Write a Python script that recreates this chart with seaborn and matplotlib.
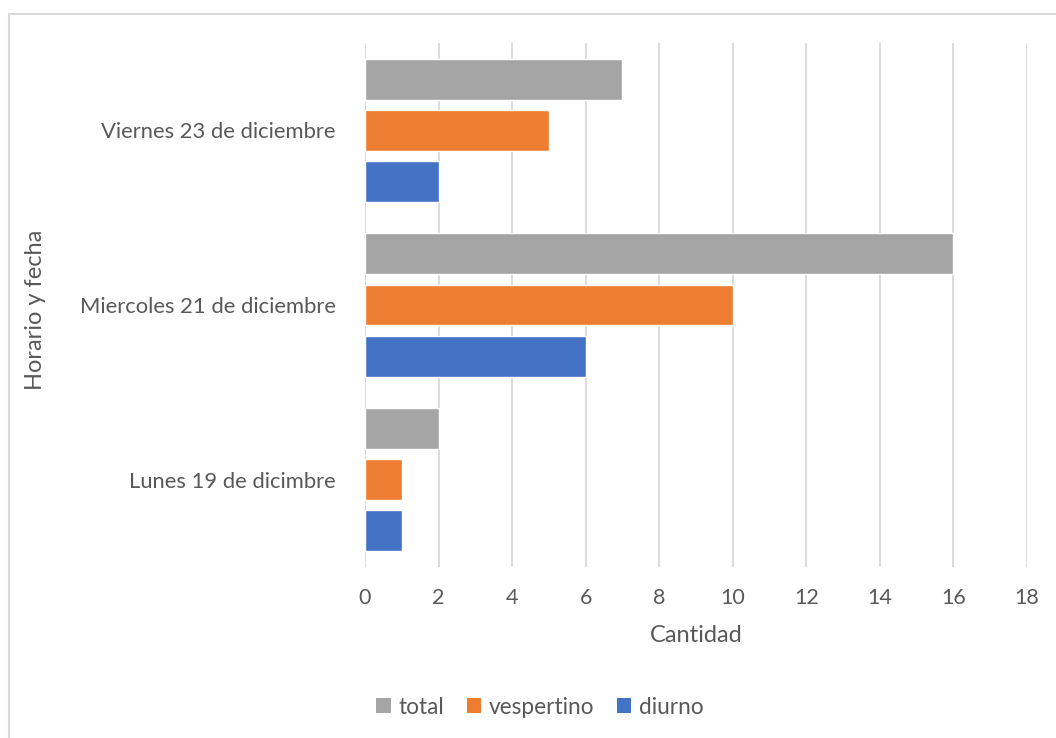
import matplotlib
matplotlib.use("Agg")
import matplotlib.pyplot as plt
import seaborn as sns
import pandas as pd
from matplotlib.patches import Rectangle, Patch

categorias = ["Viernes 23 de diciembre", "Miercoles 21 de diciembre", "Lunes 19 de dicimbre"]
series = ["total", "vespertino", "diurno"]
total = [7, 16, 2]
vespertino = [5, 10, 1]
diurno = [2, 6, 1]
colores = ["#A5A5A5", "#ED7D31", "#4472C4"]
xticks = [0, 2, 4, 6, 8, 10, 12, 14, 16, 18]

rows = []
for s, vals in zip(series, [total, vespertino, diurno]):
    for c, v in zip(categorias, vals):
        rows.append({"cat": c, "serie": s, "valor": v})
df = pd.DataFrame(rows)

sns.set_theme(style="white")
plt.rcParams["font.family"] = ["Lato", "DejaVu Sans"]
txt = "#595959"

fig = plt.figure(figsize=(10.56, 7.38), dpi=100)
ax = fig.add_axes([365/1056, 1-567/738, (1027-365)/1056, (567-43)/738])

sns.barplot(data=df, x="valor", y="cat", hue="serie", order=categorias,
            hue_order=series, palette=colores, orient="h", width=0.879,
            gap=0.2, saturation=1, ax=ax, legend=False)

ax.set_xlim(0, 18)
ax.set_xticks(xticks)
ax.grid(axis="x", color="#D9D9D9", linewidth=1.3)
ax.set_axisbelow(True)
for sp in ax.spines.values():
    sp.set_visible(False)
ax.tick_params(axis="x", length=0, labelsize=15.5, labelcolor=txt, pad=15)
ax.tick_params(axis="y", length=0, labelsize=15.8, labelcolor=txt, pad=21)
ax.set_xlabel("Cantidad", fontsize=17, color=txt)
ax.set_ylabel("Horario y fecha", fontsize=17, color=txt)
ax.xaxis.set_label_coords(0.5, (567-625)/524)
ax.yaxis.set_label_coords((46-365)/662, 0.49)

handles = [Patch(facecolor=c, edgecolor="none") for c in colores]
fig.legend(handles, series, loc="center", bbox_to_anchor=(540/1056, 1-707/738),
           ncol=3, frameon=False, fontsize=16.3, labelcolor=txt,
           handlelength=0.62, handleheight=0.62, handletextpad=0.35, columnspacing=1.0,
           borderpad=0.2)

fig.patches.append(Rectangle((9/1056, -0.1), 1.2, 1-14/738+0.1, transform=fig.transFigure,
                             fill=False, edgecolor="#D9D9D9", linewidth=1.5))

fig.savefig("out.png", dpi=100)
